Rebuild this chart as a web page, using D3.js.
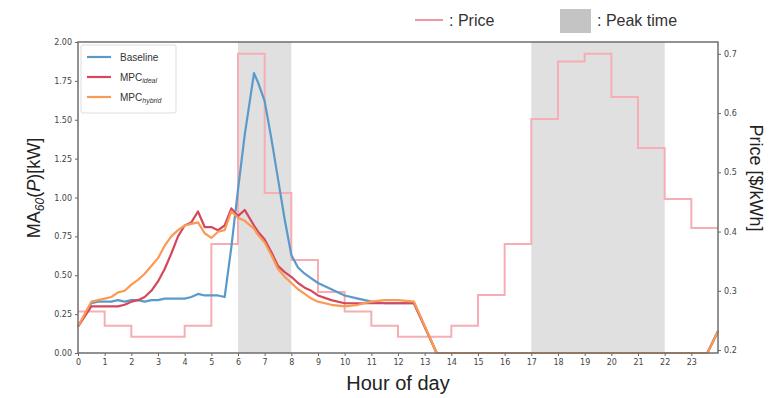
<!DOCTYPE html>
<html>
    <head>
        <title>MA60 load vs price</title>
        <style>
        html, body {
            margin: 0;
            padding: 0;
            background: white;
        }
        svg {
            display: block;
            font-family: "Liberation Sans", Arial, sans-serif;
        }
        .tick text {
            font-family: "DejaVu Sans", sans-serif;
            font-size: 8px;
            fill: #444;
        }
        </style>
    </head>
    <body>
        <svg width="769" height="398"></svg>

        <script src="https://cdnjs.cloudflare.com/ajax/libs/d3/7.8.5/d3.min.js"></script>
        <script>
            // hours of the day where the load curves were read
            let hours = [0, 0.5, 0.75, 1, 1.25, 1.5, 1.75, 2, 2.25, 2.5, 2.75, 3, 3.25, 3.5, 3.75,
                4, 4.25, 4.5, 4.75, 5, 5.25, 5.5, 5.75, 6, 6.25, 6.6, 6.75, 7, 7.25, 7.5, 7.75,
                8, 8.25, 8.5, 8.75, 9, 9.5, 10, 10.5, 11, 11.5, 12, 12.6, 13.45, 23.6, 24];

            let baseline = [0.17, 0.32, 0.33, 0.33, 0.33, 0.34, 0.33, 0.34, 0.34, 0.33, 0.34, 0.34, 0.35, 0.35, 0.35,
                0.35, 0.36, 0.38, 0.37, 0.37, 0.37, 0.36, 0.68, 1.05, 1.40, 1.80, 1.74, 1.62, 1.38, 1.12, 0.86,
                0.63, 0.55, 0.51, 0.48, 0.45, 0.41, 0.37, 0.35, 0.33, 0.32, 0.32, 0.32, 0, 0, 0.14];

            let mpcIdeal = [0.17, 0.30, 0.30, 0.30, 0.30, 0.30, 0.31, 0.33, 0.34, 0.36, 0.40, 0.46, 0.54, 0.64, 0.75,
                0.82, 0.84, 0.91, 0.81, 0.81, 0.79, 0.82, 0.93, 0.88, 0.92, 0.82, 0.78, 0.73, 0.65, 0.56, 0.52,
                0.49, 0.45, 0.42, 0.40, 0.37, 0.34, 0.32, 0.32, 0.32, 0.32, 0.32, 0.32, 0, 0, 0.14];

            let mpcHybrid = [0.17, 0.33, 0.34, 0.35, 0.36, 0.39, 0.40, 0.44, 0.47, 0.51, 0.56, 0.61, 0.69, 0.75, 0.79,
                0.82, 0.83, 0.84, 0.77, 0.74, 0.78, 0.79, 0.91, 0.87, 0.85, 0.80, 0.76, 0.71, 0.63, 0.54, 0.49,
                0.45, 0.41, 0.38, 0.35, 0.33, 0.31, 0.30, 0.31, 0.33, 0.34, 0.34, 0.33, 0, 0, 0.14];

            // hourly price, $/kWh, one value per hour 0..23
            let price = [0.265, 0.241, 0.2225, 0.2225, 0.241, 0.379, 0.70, 0.465, 0.352, 0.298, 0.265, 0.241,
                0.2225, 0.2225, 0.241, 0.293, 0.379, 0.59, 0.687, 0.70, 0.627, 0.541, 0.455, 0.406];

            // peak periods [start, end]
            let peaks = [[6, 8], [17, 22]];

            let xTicks = d3.range(0, 24);
            let yTicks = d3.range(0, 2.01, 0.25);
            let priceTicks = [0.2, 0.3, 0.4, 0.5, 0.6, 0.7];

            let margin = {top: 42, right: 51, bottom: 45, left: 78};
            let width = 769, height = 398;

            let x = d3.scaleLinear().domain([0, 24]).range([margin.left, width - margin.right]);
            let y = d3.scaleLinear().domain([0, 2]).range([height - margin.bottom, margin.top]);
            let yPrice = d3.scaleLinear().domain([0.195, 0.72]).range([height - margin.bottom, margin.top]);

            let svg = d3.select("svg");

            // peak shading
            svg.selectAll("rect.peak")
                .data(peaks)
                .enter().append("rect")
                .attr("class", "peak")
                .attr("x", d => x(d[0]))
                .attr("width", d => x(d[1]) - x(d[0]))
                .attr("y", margin.top)
                .attr("height", y(0) - margin.top)
                .attr("fill", "#e0e0e0");

            // price step line
            let priceData = price.map((p, i) => [i, p]);
            priceData.push([24, price[price.length - 1]]);
            let priceLine = d3.line()
                .x(d => x(d[0]))
                .y(d => yPrice(d[1]))
                .curve(d3.curveStepAfter);
            svg.append("path")
                .attr("d", priceLine(priceData))
                .attr("fill", "none")
                .attr("stroke", "#f6adb3")
                .attr("stroke-width", 2);

            // load curves
            let series = [
                {name: "Baseline", values: baseline, color: "#5a9acb"},
                {name: "MPC", sub: "ideal", values: mpcIdeal, color: "#d4475c"},
                {name: "MPC", sub: "hybrid", values: mpcHybrid, color: "#fb9a52"}
            ];
            let line = d3.line()
                .x(d => x(d[0]))
                .y(d => y(d[1]));
            series.forEach(s => {
                svg.append("path")
                    .attr("d", line(hours.map((h, i) => [h, s.values[i]])))
                    .attr("fill", "none")
                    .attr("stroke", s.color)
                    .attr("stroke-width", 2.2)
                    .attr("stroke-linejoin", "round");
            });

            // axes
            svg.append("g")
                .attr("transform", "translate(0," + y(0) + ")")
                .call(d3.axisBottom(x).tickValues(xTicks).tickSize(3).tickFormat(d3.format("d")));
            svg.append("g")
                .attr("transform", "translate(" + margin.left + ",0)")
                .call(d3.axisLeft(y).tickValues(yTicks).tickSize(3).tickFormat(d3.format(".2f")));
            svg.append("g")
                .attr("transform", "translate(" + (width - margin.right) + ",0)")
                .call(d3.axisRight(yPrice).tickValues(priceTicks).tickSize(3).tickFormat(d3.format(".1f")));
            svg.selectAll(".domain").remove();
            svg.selectAll(".tick line").attr("stroke", "#666");

            // frame
            svg.append("rect")
                .attr("x", margin.left)
                .attr("y", margin.top)
                .attr("width", x(24) - margin.left)
                .attr("height", y(0) - margin.top)
                .attr("fill", "none")
                .attr("stroke", "#6e6e6e")
                .attr("stroke-width", 1.5);

            // axis labels
            svg.append("text")
                .attr("x", (x(0) + x(24)) / 2)
                .attr("y", 390)
                .attr("text-anchor", "middle")
                .attr("font-size", 20)
                .attr("fill", "#222")
                .text("Hour of day");

            let yl = svg.append("text")
                .attr("transform", "translate(40,188) rotate(-90)")
                .attr("text-anchor", "middle")
                .attr("font-size", 18)
                .attr("fill", "#222");
            yl.append("tspan").text("MA");
            yl.append("tspan").attr("font-size", 12).attr("font-style", "italic").attr("dy", 4).text("60");
            yl.append("tspan").attr("dy", -4).text("(");
            yl.append("tspan").attr("font-style", "italic").text("P");
            yl.append("tspan").text(")[kW]");

            svg.append("text")
                .attr("transform", "translate(750,178) rotate(90)")
                .attr("text-anchor", "middle")
                .attr("font-size", 18)
                .attr("fill", "#222")
                .text("Price [$/kWh]");

            // inner legend
            svg.append("rect")
                .attr("x", 81).attr("y", 45)
                .attr("width", 95).attr("height", 68)
                .attr("rx", 2)
                .attr("fill", "white")
                .attr("stroke", "#ddd");
            series.forEach((s, i) => {
                let ly = 57 + i * 20;
                svg.append("line")
                    .attr("x1", 87).attr("x2", 111)
                    .attr("y1", ly).attr("y2", ly)
                    .attr("stroke", s.color)
                    .attr("stroke-width", 2.2);
                let t = svg.append("text")
                    .attr("x", 120).attr("y", ly + 3.5)
                    .attr("font-size", 10)
                    .attr("fill", "#333");
                t.append("tspan").text(s.name);
                if (s.sub) {
                    t.append("tspan").attr("font-size", 7).attr("font-style", "italic").attr("dy", 2).text(s.sub);
                }
            });

            // top legend
            svg.append("line")
                .attr("x1", 415).attr("x2", 443)
                .attr("y1", 20).attr("y2", 20)
                .attr("stroke", "#f0959e")
                .attr("stroke-width", 2);
            svg.append("text")
                .attr("x", 449).attr("y", 26)
                .attr("font-size", 16)
                .attr("fill", "#333")
                .text(": Price");
            svg.append("rect")
                .attr("x", 560).attr("y", 9)
                .attr("width", 31).attr("height", 24)
                .attr("fill", "#c4c4c4");
            svg.append("text")
                .attr("x", 597).attr("y", 26)
                .attr("font-size", 16)
                .attr("fill", "#333")
                .text(": Peak time");
        </script>
    </body>
</html>
